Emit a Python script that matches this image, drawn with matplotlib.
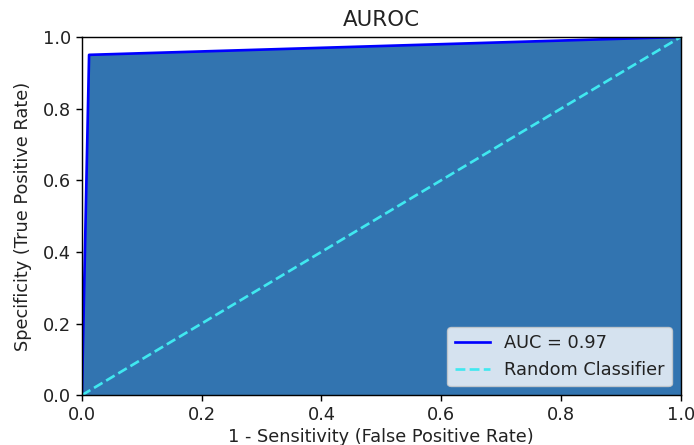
import matplotlib
matplotlib.use("Agg")
import matplotlib.pyplot as plt

fpr = [0.0, 0.012, 1.0]
tpr = [0.0, 0.95, 1.0]
auc_label = "AUC = 0.97"
random_x = [0.0, 1.0]
random_y = [0.0, 1.0]

s = 1.28
plt.rcParams.update({
    "font.size": 10 * s,
    "axes.linewidth": 0.8 * s,
    "xtick.major.size": 3.5 * s,
    "ytick.major.size": 3.5 * s,
    "xtick.major.width": 0.8 * s,
    "ytick.major.width": 0.8 * s,
    "text.color": "#222222",
    "axes.labelcolor": "#222222",
    "xtick.labelcolor": "#222222",
    "ytick.labelcolor": "#222222",
})

fig = plt.figure(figsize=(6.94, 4.45), dpi=100)
ax = fig.add_axes([0.118, 0.112, 0.863, 0.805])
ax.fill_between(fpr, tpr, 0, color="#3274b0")
ax.plot(fpr, tpr, color="blue", lw=1.5 * s, label=auc_label)
ax.plot(random_x, random_y, color="#40e8f0", ls="--", lw=1.5 * s, label="Random Classifier")
ax.set_xlim(0, 1)
ax.set_ylim(0, 1)
ax.set_title("AUROC", pad=8)
ax.set_xlabel("1 - Sensitivity (False Positive Rate)", labelpad=3)
ax.set_ylabel("Specificity (True Positive Rate)", labelpad=7.5)
ax.legend(loc="lower right")
fig.savefig("out.png", dpi=100)
